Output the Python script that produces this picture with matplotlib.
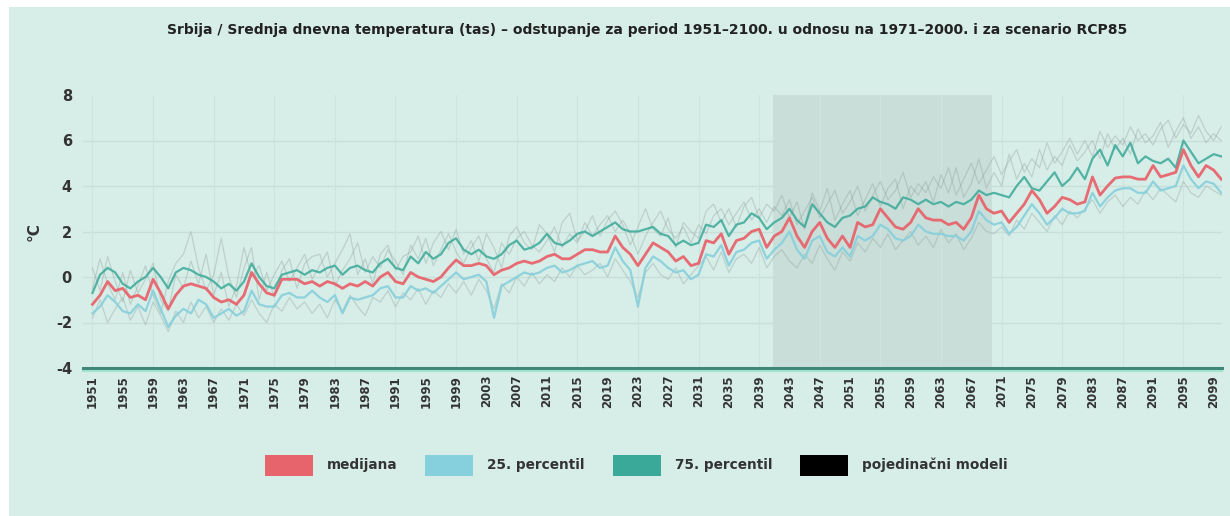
import matplotlib.pyplot as plt
from matplotlib.patches import Rectangle
from matplotlib.lines import Line2D
import numpy as np

# years 1951-2100, anomalies vs 1971-2000 (deg C), RCP8.5
years = list(range(1951, 2101))

median = [
    -1.2, -0.8, -0.2, -0.6, -0.5, -0.9, -0.8, -1.0, -0.1, -0.7,
    -1.4, -0.8, -0.4, -0.3, -0.4, -0.5, -0.9, -1.1, -1.0, -1.2,
    -0.8, 0.2, -0.3, -0.7, -0.8, -0.1, -0.1, -0.1, -0.3, -0.2,
    -0.4, -0.2, -0.3, -0.5, -0.3, -0.4, -0.2, -0.4, 0.0, 0.2,
    -0.2, -0.3, 0.2, 0.0, -0.1, -0.2, 0.0, 0.4, 0.75, 0.5,
    0.5, 0.6, 0.5, 0.1, 0.3, 0.4, 0.6, 0.7, 0.6, 0.7,
    0.9, 1.0, 0.8, 0.8, 1.0, 1.2, 1.2, 1.1, 1.1, 1.8,
    1.3, 1.0, 0.5, 1.0, 1.5, 1.3, 1.1, 0.7, 0.9, 0.5,
    0.6, 1.6, 1.5, 1.9, 1.0, 1.6, 1.7, 2.0, 2.1, 1.3,
    1.8, 2.0, 2.6, 1.8, 1.3, 2.0, 2.4, 1.7, 1.3, 1.8,
    1.3, 2.4, 2.2, 2.3, 3.0, 2.6, 2.2, 2.1, 2.4, 3.0,
    2.6, 2.5, 2.5, 2.3, 2.4, 2.1, 2.6, 3.6, 3.0, 2.8,
    2.9, 2.4, 2.8, 3.2, 3.8, 3.4, 2.8, 3.1, 3.5, 3.4,
    3.2, 3.3, 4.4, 3.6, 4.0, 4.35, 4.4, 4.4, 4.3, 4.3,
    4.9, 4.4, 4.5, 4.6, 5.6, 4.9, 4.4, 4.9, 4.7, 4.3,
]

p25 = [
    -1.6, -1.3, -0.8, -1.1, -1.5, -1.6, -1.2, -1.5, -0.6, -1.4,
    -2.2, -1.7, -1.4, -1.6, -1.0, -1.2, -1.8, -1.6, -1.4, -1.7,
    -1.5, -0.6, -1.2, -1.3, -1.3, -0.8, -0.7, -0.9, -0.9, -0.6,
    -0.9, -1.1, -0.8, -1.6, -0.9, -1.0, -0.9, -0.8, -0.5, -0.4,
    -0.9, -0.9, -0.4, -0.6, -0.5, -0.7, -0.4, -0.1, 0.2, -0.1,
    0.0, 0.1, -0.2, -1.8, -0.4, -0.2, 0.0, 0.2, 0.1, 0.2,
    0.4, 0.5, 0.2, 0.3, 0.5, 0.6, 0.7, 0.4, 0.5, 1.3,
    0.7, 0.3, -1.3, 0.4, 0.9, 0.7, 0.4, 0.2, 0.3, -0.1,
    0.1, 1.0, 0.9, 1.4, 0.5, 1.1, 1.2, 1.5, 1.6, 0.8,
    1.2, 1.5, 2.0, 1.2, 0.8, 1.6, 1.8, 1.1, 0.9, 1.3,
    0.9, 1.8, 1.6, 1.8, 2.3, 2.1, 1.7, 1.6, 1.8, 2.3,
    2.0, 1.9, 1.9, 1.8, 1.8, 1.6, 2.0, 2.9, 2.5, 2.3,
    2.4, 1.9, 2.2, 2.7, 3.2, 2.8, 2.3, 2.6, 3.0, 2.8,
    2.8, 2.9, 3.7, 3.1, 3.5, 3.8, 3.9, 3.9, 3.7, 3.7,
    4.2, 3.8, 3.9, 4.0, 4.9, 4.3, 3.9, 4.2, 4.1, 3.7,
]

p75 = [
    -0.7, 0.1, 0.4, 0.2, -0.3, -0.5, -0.2, 0.0, 0.4, 0.0,
    -0.5, 0.2, 0.4, 0.3, 0.1, 0.0, -0.2, -0.5, -0.3, -0.6,
    -0.2, 0.6, 0.0, -0.4, -0.5, 0.1, 0.2, 0.3, 0.1, 0.3,
    0.2, 0.4, 0.5, 0.1, 0.4, 0.5, 0.3, 0.2, 0.6, 0.8,
    0.4, 0.3, 0.9, 0.6, 1.1, 0.8, 1.0, 1.5, 1.7, 1.2,
    1.0, 1.2, 0.9, 0.8, 1.0, 1.4, 1.6, 1.2, 1.3, 1.5,
    1.9, 1.5, 1.4, 1.6, 1.9, 2.0, 1.8, 2.0, 2.2, 2.4,
    2.1, 2.0, 2.0, 2.1, 2.2, 1.9, 1.8, 1.4, 1.6, 1.4,
    1.5, 2.3, 2.2, 2.5, 1.8, 2.3, 2.4, 2.8, 2.6, 2.1,
    2.4, 2.6, 3.0, 2.5, 2.2, 3.2, 2.8, 2.4, 2.2, 2.6,
    2.7, 3.0, 3.1, 3.5, 3.3, 3.2, 3.0, 3.5, 3.4, 3.2,
    3.4, 3.2, 3.3, 3.1, 3.3, 3.2, 3.4, 3.8, 3.6, 3.7,
    3.6, 3.5, 4.0, 4.4, 3.9, 3.8, 4.2, 4.6, 4.0, 4.3,
    4.8, 4.3, 5.2, 5.6, 4.9, 5.8, 5.3, 5.9, 5.0, 5.3,
    5.1, 5.0, 5.2, 4.8, 6.0, 5.5, 5.0, 5.2, 5.4, 5.3,
]

# a few individual model runs (faint)
model_a = [
    -0.5, 0.8, -0.3, -1.0, 0.2, -1.2, -0.4, 0.5, -0.8, -1.6,
    -0.2, 0.6, 1.0, 2.0, 0.4, -0.6, 0.1, 1.7, 0.0, -0.9,
    0.4, 1.3, -1.0, 0.2, -0.9, 0.3, 0.8, -0.5, 0.6, 0.9,
    1.0, 0.0, 0.6, 1.2, 1.9, 0.1, 0.8, -0.3, 1.0, 1.4,
    0.3, 0.9, 1.1, 1.8, 0.6, 1.5, 2.0, 1.2, 2.1, 1.0,
    1.6, 0.7, 1.9, 1.3, 0.4, 1.8, 2.2, 1.5, 1.2, 2.3,
    1.9, 1.1, 2.4, 2.8, 1.6, 2.0, 2.7, 1.8, 2.5, 2.9,
    2.3, 1.4, 2.2, 3.0, 2.1, 1.8, 2.6, 1.3, 2.4, 2.0,
    1.7, 2.9, 3.2, 2.4, 3.0, 2.2, 3.1, 3.5, 2.6, 3.2,
    2.9, 3.6, 2.6, 3.3, 2.1, 3.7, 2.9, 3.9, 2.5, 3.2,
    3.8, 2.7, 3.4, 4.1, 3.1, 3.9, 4.3, 3.0, 4.0, 3.6,
    4.2, 3.3, 4.5, 3.7, 4.8, 3.5, 4.1, 5.2, 3.9, 4.6,
    4.0, 5.4, 4.3, 5.0, 4.4, 5.6, 4.7, 5.3, 4.9, 5.8,
    5.1, 5.5, 6.0, 5.2, 6.3, 5.6, 6.1, 5.4, 6.5, 5.9,
    6.2, 6.8, 5.7, 6.4, 7.0, 6.1, 6.6, 5.9, 6.3, 6.0,
]

model_b = [
    -1.8, -1.0, -2.0, -1.4, -0.9, -1.9, -1.3, -2.1, -1.1, -1.7,
    -2.4, -1.5, -2.0, -1.1, -1.8, -1.3, -2.0, -1.4, -1.9, -1.2,
    -1.7, -1.0, -1.6, -2.0, -1.2, -1.5, -0.9, -1.4, -1.1, -1.6,
    -1.2, -1.8, -1.0, -1.5, -0.8, -1.3, -1.7, -0.9, -1.1, -0.6,
    -1.3, -0.7, -1.0, -0.5, -1.2, -0.6, -0.9, -0.3, -0.7, -0.2,
    -0.8, -0.1, -0.6, -1.4, -0.3, -0.7, 0.0, -0.4, 0.2, -0.3,
    0.1, -0.2, 0.4, 0.0, 0.5, 0.1, 0.3, 0.6, 0.0, 0.8,
    0.3, -0.2, -0.9, 0.2, 0.6, 0.1, -0.1, 0.4, -0.3, 0.1,
    0.5, 0.9, 0.3, 1.1, 0.2, 0.8, 1.0, 0.6, 1.3, 0.4,
    0.9, 1.2, 0.7, 0.4, 1.0, 0.6, 1.4, 0.8, 0.3, 1.1,
    0.7, 1.5, 1.1, 1.7, 1.3, 1.9, 1.2, 1.6, 2.0, 1.4,
    1.8, 1.3, 2.1, 1.5, 1.9, 1.2, 1.7, 2.4, 2.0, 1.9,
    2.2, 1.8, 2.5, 2.1, 2.8, 2.4, 2.0, 2.7, 2.3, 2.9,
    2.6, 3.0, 3.4, 2.8, 3.3, 3.6, 3.1, 3.5, 3.2, 3.8,
    3.4, 3.9, 3.6, 3.3, 4.2, 3.7, 3.5, 4.0, 3.8, 3.6,
]

model_c = [
    0.4, -0.6, 0.9, -0.2, -1.1, 0.3, -0.7, -0.1, 0.6, -1.0,
    -1.5, 0.1, -0.5, 0.7, -0.3, 1.0, -0.8, 0.2, -1.3, -0.4,
    1.3, 0.0, 0.5, -0.6, 0.1, 0.7, -0.2, 0.4, 1.0, -0.1,
    0.5, 1.1, -0.4, 0.3, 0.8, 1.5, 0.2, 0.9, 0.4, 1.2,
    0.7, 0.1, 1.4, 0.8, 1.7, 0.5, 1.2, 1.9, 1.1, 0.6,
    1.3, 1.8, 0.8, 0.2, 1.5, 1.0, 1.7, 2.0, 1.4, 1.1,
    1.6, 2.2, 1.3, 1.9, 1.5, 2.4, 1.8, 2.3, 2.7, 2.0,
    2.5, 1.9, 1.0, 1.8, 2.4, 2.9, 2.1, 1.7, 2.2, 1.5,
    2.3, 1.9, 2.7, 3.0, 2.3, 2.8, 3.3, 2.5, 3.0, 2.4,
    3.1, 2.7, 3.4, 2.3, 2.9, 3.5, 2.6, 3.2, 3.8, 2.8,
    3.3, 4.0, 2.9, 3.6, 4.2, 3.4, 3.8, 4.6, 3.5, 4.1,
    3.7, 4.4, 3.9, 4.8, 3.6, 4.3, 5.0, 4.1, 4.7, 5.3,
    4.5, 5.1, 5.6, 4.6, 5.2, 4.8, 5.9, 5.0, 5.5, 6.1,
    5.4, 6.0, 5.3, 6.4, 5.7, 6.2, 5.8, 6.6, 6.0, 6.3,
    5.8, 6.5, 6.9, 6.1, 6.7, 6.3, 7.1, 6.4, 6.0, 6.6,
]

tick_years = list(range(1951, 2100, 4))
shade_period = (2040.8, 2069.8)

legend_labels = ['medijana', '25. percentil', '75. percentil', 'pojedinačni modeli']

BG = '#d7ede7'
C_MED = '#e8646c'
C_P25 = '#86cfdc'
C_P75 = '#3aa999'
C_MOD = '#8a9c98'
TXT = '#333333'
narrow = ['Liberation Sans Narrow', 'DejaVu Sans']

fig = plt.figure(figsize=(12.3, 5.16), dpi=100)
fig.patch.set_facecolor('white')
# mint panel, with thin white strip on top and left
fig.patches.append(Rectangle((9 / 1230, 0), 1, 1 - 7 / 516, transform=fig.transFigure,
                             facecolor=BG, edgecolor='none', zorder=-1))

ax = fig.add_axes([83 / 1230, 1 - 368 / 516, (1222 - 83) / 1230, (368 - 95) / 516])
ax.set_zorder(1)
ax.set_facecolor(BG)
ax.set_xlim(1949.75, 2100.1)
ax.set_ylim(-4, 8)

ax.axvspan(*shade_period, color='#a9bdb8', alpha=0.3, lw=0, zorder=0.5)

for yv in [-2, 0, 2, 4, 6]:
    ax.axhline(yv, color='#c8dfd9', lw=1.0, zorder=0.6)
for xv in tick_years[::2]:
    ax.axvline(xv, color='#cde3dd', lw=0.8, zorder=0.6)

for m in (model_a, model_b, model_c):
    ax.plot(years, m, color=C_MOD, lw=0.9, alpha=0.35, zorder=1)

ax.plot(years, p25, color=C_P25, lw=1.6, alpha=0.9, zorder=2)
ax.plot(years, p75, color=C_P75, lw=1.6, alpha=0.85, zorder=3)
ax.plot(years, median, color=C_MED, lw=2.0, alpha=0.95, zorder=4)

for s in ['top', 'right', 'left']:
    ax.spines[s].set_visible(False)
ax.spines['bottom'].set_color('#3f8777')
ax.spines['bottom'].set_linewidth(2.2)
# light green rule just under the x axis
fig.lines.append(Line2D([83 / 1230, 1222 / 1230], [1 - 370.5 / 516] * 2,
                        transform=fig.transFigure, color='#a3e4cf', lw=1.6, zorder=0))

ax.set_yticks([-4, -2, 0, 2, 4, 6, 8])
ax.set_yticklabels(['-4', '-2', '0', '2', '4', '6', '8'], fontweight='bold',
                   fontsize=10.5, color=TXT)
ax.set_xticks(tick_years)
ax.set_xticklabels([str(y) for y in tick_years], rotation=90, fontsize=8.5,
                   fontweight='bold', color=TXT, family=narrow)
ax.tick_params(axis='both', length=0)
ax.tick_params(axis='y', pad=8)
ax.tick_params(axis='x', pad=5)
ax.set_ylabel('°C', fontsize=11, fontweight='bold', color=TXT, labelpad=10)

fig.text(0.526, 0.942,
         'Srbija / Srednja dnevna temperatura (tas) – odstupanje za period 1951–2100. '
         'u odnosu na 1971–2000. i za scenario RCP85',
         ha='center', va='center', fontsize=10, fontweight='bold', color='#222222',
         family=narrow)

# legend row
legend_colors = [C_MED, C_P25, C_P75, '#000000']
legend_x = [265, 425, 613, 800]
for x0, col, lab in zip(legend_x, legend_colors, legend_labels):
    fig.patches.append(Rectangle((x0 / 1230, 1 - 476 / 516), 48 / 1230, 21 / 516,
                                 transform=fig.transFigure, facecolor=col,
                                 edgecolor='none', zorder=2))
    fig.text((x0 + 62) / 1230, 1 - 465 / 516, lab, ha='left', va='center',
             fontsize=9.8, fontweight='bold', color=TXT, family=narrow)

plt.savefig('out.png', dpi=100, facecolor=fig.get_facecolor())
